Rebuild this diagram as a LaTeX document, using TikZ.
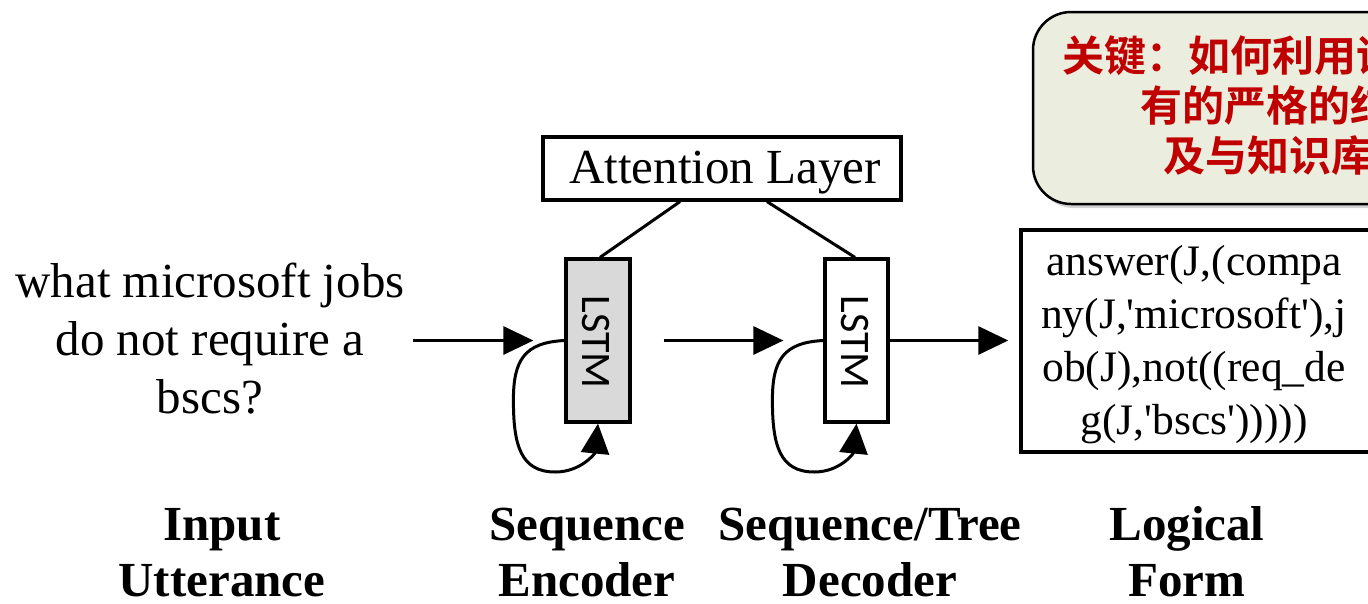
\documentclass[tikz,border=0pt]{standalone}
\usepackage{fontspec}
\setmainfont{Liberation Serif}
\newfontfamily\lffont{Liberation Serif}[Ligatures=TeXOff]
\newfontfamily\cjk{Noto Sans CJK SC Bold}
\newfontfamily\calib{Carlito}
\usetikzlibrary{arrows.meta,shadows,calc}
\definecolor{calloutfill}{RGB}{235,238,222}
\definecolor{calloutred}{RGB}{192,0,0}
\definecolor{lstmgray}{RGB}{217,217,217}
\newcommand\selfloop[1]{%
  \draw[arr] (#1.west) .. controls +(-40,2) and +(0,-40) .. ($(#1.west)+(-51,59.5)$)
    .. controls +(0,45) and +(-35,0) .. ($(#1.west)+(-9,131.5)$)
    .. controls +(25,0) and +(-3,30) .. (#1.south);}
\begin{document}
\begin{tikzpicture}[x=1pt,y=-1pt,
  lw/.style={line width=3pt},
  box/.style={draw, line width=3.2pt, inner sep=0pt},
  arr/.style={line width=3pt, -{Triangle[length=30pt,width=28pt]}},
  txt/.style={font=\fontsize{49}{58}\selectfont, inner sep=0pt, anchor=base},
  lftxt/.style={font=\lffont\fontsize{43.5}{52}\selectfont, inner sep=0pt, anchor=base},
  lbl/.style={font=\fontsize{49}{56}\selectfont\bfseries, inner sep=0pt, anchor=base},
  lstm/.style={font=\calib\fontsize{42}{42}\selectfont, inner sep=0pt, rotate=-90},
  cjktxt/.style={font=\cjk\fontsize{42}{50}\selectfont, text=calloutred, inner sep=0pt, anchor=base west}]
\useasboundingbox (0,0) rectangle (1368,603);
\clip (0,0) rectangle (1368,603);
% callout
\node[draw, line width=2.5pt, fill=calloutfill, rounded corners=38pt,
      minimum width=627pt, minimum height=192pt,
      drop shadow={shadow xshift=3pt, shadow yshift=-4pt, opacity=0.35}] (callout) at (1346.5,108) {};
\node[cjktxt] (c1) at (1062,71) {关键：如何利用语义表示所具};
\node[cjktxt] (c2) at (1140,121) {有的严格的结构化信息};
\node[cjktxt] (c3) at (1163,171) {及与知识库的关联};
% attention
\node[box, minimum width=358pt, minimum height=63pt] (att) at (722,168.5) {};
\node[txt] (attlbl) at (725,183) {Attention Layer};
% LSTMs
\node[box, fill=lstmgray, minimum width=64pt, minimum height=163pt] (enc) at (598,340.5) {};
\node[lstm] (enclbl) at (596,342) {LSTM};
\node[box, fill=white, minimum width=63pt, minimum height=163pt] (dec) at (856.5,340.5) {};
\node[lstm] (declbl) at (855,342) {LSTM};
% logical form box
\node[box, line width=3.5pt, minimum width=359pt, minimum height=222pt] (lf) at (1200.5,341) {};
\node[lftxt] (lf1) at (1194,275) {answer(J,(compa};
\node[lftxt] (lf2) at (1194,328) {ny(J,'microsoft'),j};
\node[lftxt] (lf3) at (1194,381) {ob(J),not((req\_de};
\node[lftxt] (lf4) at (1194,434) {g(J,'bscs')))))};
% input
\node[txt] (in1) at (210,297) {what microsoft jobs};
\node[txt] (inp) at (210,355) {do not require a};
\node[txt] (in3) at (210,413) {bscs?};
\coordinate (instart) at (413,340.5);
% connectors
\draw[lw] ([xshift=-42pt]att.south) -- ([xshift=2pt]enc.north);
\draw[lw] ([xshift=45pt]att.south) -- ([xshift=-1.5pt]dec.north);
\draw[arr, shorten >=31pt] (instart) -- (enc.west);
\draw[arr, shorten <=32pt, shorten >=40pt] (enc.east) -- (dec.west);
\draw[arr, shorten >=11pt] (dec.east) -- (dec.east -| lf.west);
\selfloop{enc}
\selfloop{dec}
% bottom labels
\node[lbl] (l1a) at (222,540) {Input};
\node[lbl] (l1b) at (222,596) {Utterance};
\node[lbl] (l2a) at (587,540) {Sequence};
\node[lbl] (l2b) at (587,596) {Encoder};
\node[lbl] (l3a) at (870,540) {Sequence/Tree};
\node[lbl] (l3b) at (870,596) {Decoder};
\node[lbl] (l4a) at (1187,540) {Logical};
\node[lbl] (l4b) at (1187,596) {Form};
\end{tikzpicture}
\end{document}
